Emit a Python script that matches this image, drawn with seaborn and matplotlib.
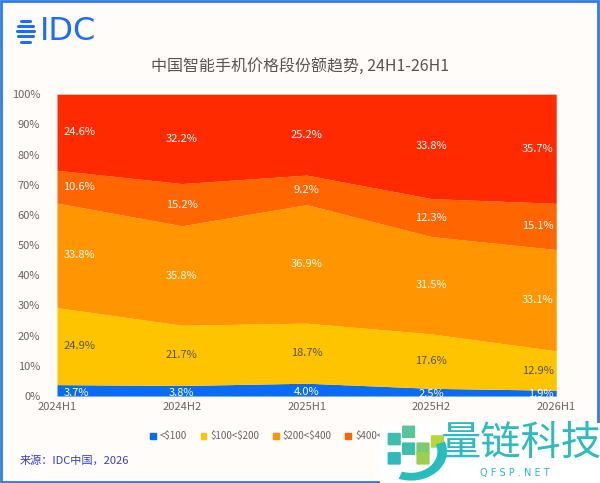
import numpy as np
import pandas as pd
import matplotlib.pyplot as plt
import matplotlib.patches as mpatches
import seaborn as sns

# =========================== DATA ===========================
periods = ["2024H1", "2024H2", "2025H1", "2025H2", "2026H1"]
segments = ["<\\$100", "\\$100<\\$200", "\\$200<\\$400", "\\$400<\\$600", "\\$600+"]
share_lt100 = [3.7, 3.8, 4.0, 2.5, 1.9]
share_100_200 = [24.9, 21.7, 18.7, 17.6, 12.9]
share_200_400 = [33.8, 35.8, 36.9, 31.5, 33.1]
share_400_600 = [10.6, 15.2, 9.2, 12.3, 15.1]
share_600plus = [24.6, 32.2, 25.2, 33.8, 35.7]

colors = ["#0a6cf5", "#ffc400", "#ff9500", "#ff6500", "#ff2a00"]
label_colors = ["white", "#555555", "white", "white", "white"]

df = pd.DataFrame(
    [share_lt100, share_100_200, share_200_400, share_400_600, share_600plus],
    index=segments, columns=periods,
)
# chart is a 100% stacked area: normalise each period
norm = df / df.sum(axis=0) * 100

# =========================== STYLE ===========================
sns.set_theme(style="white")
plt.rcParams["font.family"] = ["Noto Sans CJK SC", "DejaVu Sans"]
bg = "#fffcfa"

fig = plt.figure(figsize=(6, 4.83), dpi=100, facecolor=bg)
ax = fig.add_axes([0.095, 0.18, 0.832, 0.625], facecolor=bg)

x = np.arange(len(periods))
ax.stackplot(x, norm.values, colors=colors, labels=segments, linewidth=0)

ax.set_xlim(0, len(periods) - 1)
ax.set_ylim(0, 100)
ax.set_yticks(np.arange(0, 101, 10))
ax.set_yticklabels([f"{v}%" for v in range(0, 101, 10)], fontsize=8, color="#666666")
ax.set_xticks(x)
ax.set_xticklabels(periods, fontsize=8, color="#666666")
ax.tick_params(axis="y", pad=12, length=0)
ax.tick_params(axis="x", pad=4, length=0)
for s in ax.spines.values():
    s.set_visible(False)

# value labels in the middle of each band
cum = norm.cumsum(axis=0)
for i, seg in enumerate(segments):
    for j, p in enumerate(periods):
        top = cum.loc[seg, p]
        bottom = top - norm.loc[seg, p]
        y = (top + bottom) / 2
        if i == 0:
            y = bottom + norm.loc[seg, p] * 0.3
        if j == 0:
            ha, xx = "left", j + 0.05
        elif j == len(periods) - 1:
            ha, xx = "right", j - 0.02
        else:
            ha, xx = "center", j
        ax.text(xx, y, f"{df.loc[seg, p]:.1f}%", ha=ha, va="center",
                fontsize=8, color=label_colors[i])

# legend
handles = [mpatches.Patch(color=c, label=l) for c, l in zip(colors, segments)]
leg = fig.legend(handles=handles, loc="center left", bbox_to_anchor=(0.25, 0.097), ncol=5,
                 frameon=False, fontsize=7, handlelength=0.6, handleheight=0.6,
                 columnspacing=1.4, handletextpad=0.4, labelcolor="#666666",
                 borderaxespad=0, borderpad=0)
leg.set_zorder(3)

# title
fig.text(0.5, 0.863, "中国智能手机价格段份额趋势, 24H1-26H1", ha="center", va="center",
         fontsize=11.5, color="#555555")

# IDC logo
logo_blue = "#1a6dff"
fig.text(0.066, 0.935, "IDC", ha="left", va="center", fontsize=23,
         color=logo_blue, family="DejaVu Sans")
for k, w in enumerate([0.55, 0.9, 1.0, 0.9, 0.55]):
    yy = 0.956 - k * 0.0105
    fig.add_artist(plt.Line2D([0.043 - 0.014 * w, 0.043 + 0.014 * w], [yy, yy],
                              color=logo_blue, linewidth=2.2,
                              solid_capstyle="round"))

# source
fig.text(0.033, 0.046, "来源：IDC中国，2026", ha="left", va="center",
         fontsize=8, color="#3340c8")

# frame
fig.add_artist(mpatches.Rectangle((0.002, 0.003), 0.995, 0.994, transform=fig.transFigure,
                                  fill=False, edgecolor="#2f7bea", linewidth=2))

# watermark
fig.add_artist(mpatches.Rectangle((0.633, 0.0), 0.37, 0.124, transform=fig.transFigure,
                                  facecolor="white", edgecolor="none", zorder=10))
sq = [(0.648, 0.080, "#3dbfae"), (0.672, 0.095, "#5cc49a"), (0.672, 0.060, "#3dbfae"),
      (0.648, 0.040, "#2bbbbb"), (0.696, 0.060, "#7dc96f"), (0.696, 0.040, "#9bd04f"),
      (0.720, 0.075, "#b9d636")]
for sx, sy, sc in sq:
    fig.add_artist(mpatches.FancyBboxPatch((sx, sy), 0.018, 0.022, boxstyle="round,pad=0.002",
                                           transform=fig.transFigure, facecolor=sc,
                                           edgecolor="none", zorder=11))
fig.add_artist(mpatches.Wedge((0.685, 0.065), 0.06, -110, 20, width=0.016,
                              transform=fig.transFigure, facecolor="#25bdbd",
                              edgecolor="none", zorder=11))
fig.text(0.867, 0.083, "量链科技", ha="center", va="center", fontsize=29,
         color="#2bbcbc", zorder=12)
fig.text(0.858, 0.021, "Q F S P . N E T", ha="center", va="center", fontsize=7,
         color="#2bbcbc", zorder=12, family="DejaVu Sans")

fig.savefig("out.png", dpi=100, facecolor=bg)
